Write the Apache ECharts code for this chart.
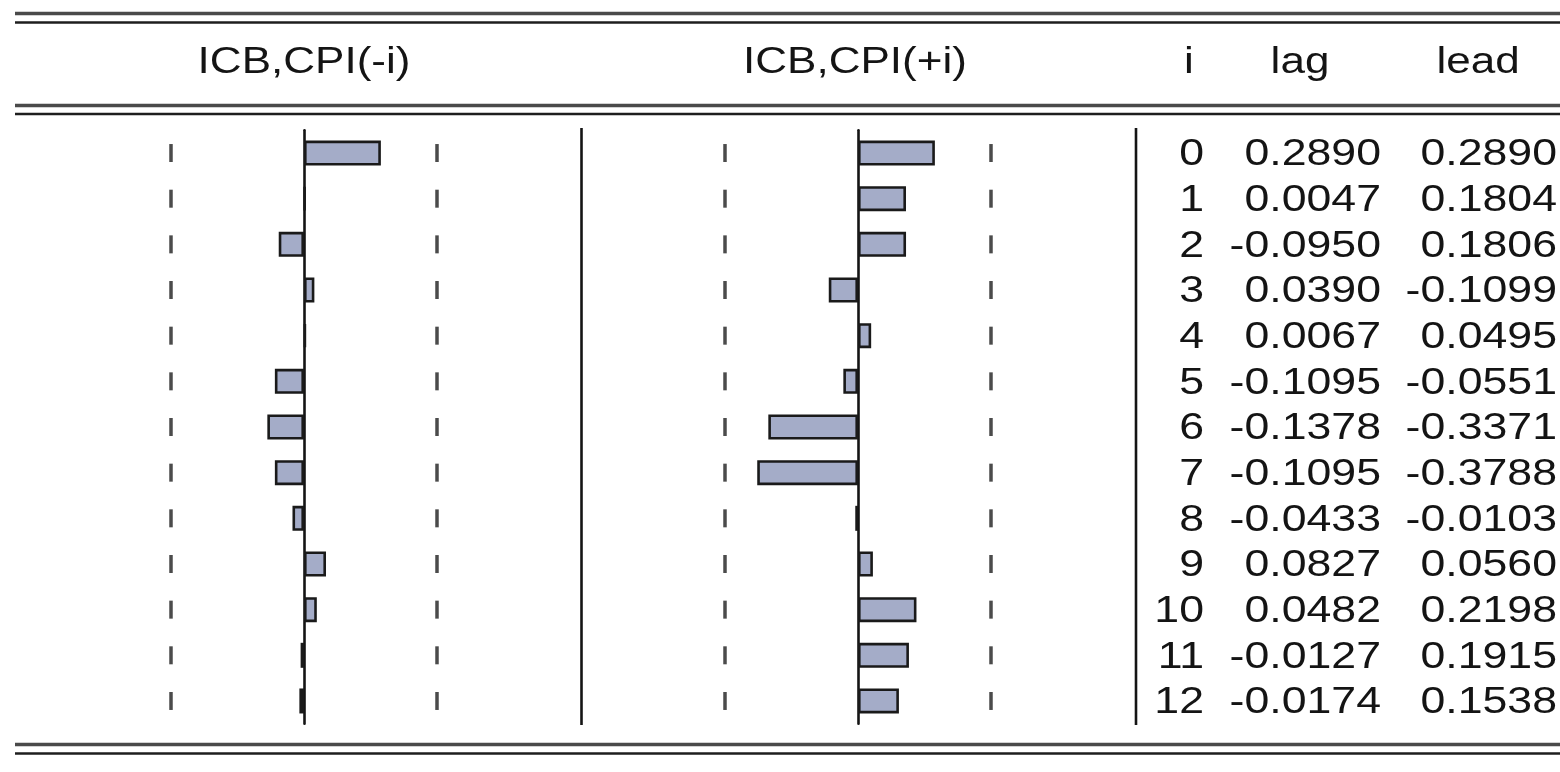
<!DOCTYPE html>
<html>
<head>
<meta charset="utf-8">
<script src="https://cdn.jsdelivr.net/npm/echarts@6/dist/echarts.min.js"></script>
<style>
  html, body { margin: 0; padding: 0; background: #ffffff; }
  #chart { width: 1560px; height: 772px; }
</style>
</head>
<body>
<div id="chart"></div>
<script>
// Cross-correlogram of ICB and CPI: lags (-i) on the left, leads (+i) on the right
const lagIndex = ['0', '1', '2', '3', '4', '5', '6', '7', '8', '9', '10', '11', '12'];
const lagCorr = [0.2890, 0.0047, -0.0950, 0.0390, 0.0067, -0.1095, -0.1378, -0.1095, -0.0433, 0.0827, 0.0482, -0.0127, -0.0174];
const leadCorr = [0.2890, 0.1804, 0.1806, -0.1099, 0.0495, -0.0551, -0.3371, -0.3788, -0.0103, 0.0560, 0.2198, 0.1915, 0.1538];
const panelTitles = ['ICB,CPI(-i)', 'ICB,CPI(+i)'];
const columnTitles = ['i', 'lag', 'lead'];
const confBand = 0.5;   // approx. two-standard-error band

const chart = echarts.init(document.getElementById('chart'), null, { renderer: 'canvas' });

const FONT = '"Liberation Sans", Arial, sans-serif';
const INK = '#141414';
const BAR_FILL = '#a4acc8';

function bandPoints() {
  const pts = [];
  lagIndex.forEach((_, k) => { pts.push([-confBand, k]); pts.push([confBand, k]); });
  return pts;
}

function valueAxis(idx) {
  return {
    type: 'value', gridIndex: idx, min: -1, max: 1,
    axisLine: { show: false }, axisTick: { show: false },
    axisLabel: { show: false }, splitLine: { show: false }
  };
}
function catAxis(idx) {
  return {
    type: 'category', gridIndex: idx, data: lagIndex, inverse: true,
    axisLine: { show: true, onZero: true, lineStyle: { color: INK, width: 2.6 } },
    axisTick: { show: false }, axisLabel: { show: false }, splitLine: { show: false }
  };
}
function barSeries(idx, values) {
  return {
    type: 'bar', xAxisIndex: idx, yAxisIndex: idx, data: values, barWidth: 25,
    itemStyle: { color: BAR_FILL, borderColor: '#1a1a1a', borderWidth: 2.6 },
    silent: true, animation: false, z: 3
  };
}
function bandSeries(idx) {
  return {
    type: 'scatter', xAxisIndex: idx, yAxisIndex: idx, data: bandPoints(),
    symbol: 'rect', symbolSize: [3.5, 18],
    itemStyle: { color: '#1e1e1e' }, silent: true, animation: false, z: 2
  };
}

chart.setOption({
  backgroundColor: '#ffffff',
  animation: false,
  grid: [
    { left: 38, width: 532, top: 130.2, height: 593.6 },
    { left: 592, width: 532, top: 130.2, height: 593.6 }
  ],
  xAxis: [valueAxis(0), valueAxis(1)],
  yAxis: [catAxis(0), catAxis(1)],
  series: [bandSeries(0), barSeries(0, lagCorr), bandSeries(1), barSeries(1, leadCorr)]
});

// Table rules, separators and the text columns
const graphics = [];
function hline(y, w, color) {
  graphics.push({ type: 'line', shape: { x1: 15, y1: y, x2: 1560, y2: y },
    style: { stroke: color, lineWidth: w }, silent: true });
}
hline(13.5, 3.5, '#4a4a4a'); hline(22.5, 2.5, '#1e1e1e');
hline(105.5, 3.5, '#4a4a4a'); hline(114, 2.5, '#1e1e1e');
hline(744.5, 3.5, '#4a4a4a'); hline(753.5, 2.5, '#1e1e1e');

[581.5, 1136].forEach(x => {
  graphics.push({ type: 'line', shape: { x1: x, y1: 128, x2: x, y2: 725 },
    style: { stroke: INK, lineWidth: 2.6 }, silent: true });
});

function txt(str, x, y, align, size, sx) {
  graphics.push({
    type: 'text', x: x, y: y, scaleX: sx, silent: true,
    style: { text: str, fill: INK, font: size + 'px ' + FONT, textAlign: align, textVerticalAlign: 'middle' }
  });
}

// panel titles centred over each zero line
const zeroL = chart.convertToPixel({ xAxisIndex: 0 }, 0);
const zeroR = chart.convertToPixel({ xAxisIndex: 1 }, 0);
txt(panelTitles[0], zeroL, 63, 'center', 37, 1.19);
txt(panelTitles[1], zeroR - 3, 63, 'center', 37, 1.19);
txt(columnTitles[0], 1189, 63, 'center', 37, 1.19);
txt(columnTitles[1], 1300, 63, 'center', 37, 1.19);
txt(columnTitles[2], 1478, 63, 'center', 37, 1.19);

lagIndex.forEach((lab, k) => {
  const y = chart.convertToPixel({ yAxisIndex: 0 }, k) + 2.5;
  txt(lab, 1204, y, 'right', 36, 1.24);
  txt(lagCorr[k].toFixed(4), 1381, y, 'right', 36, 1.24);
  txt(leadCorr[k].toFixed(4), 1557, y, 'right', 36, 1.24);
});

chart.setOption({ graphic: graphics });
</script>
</body>
</html>
